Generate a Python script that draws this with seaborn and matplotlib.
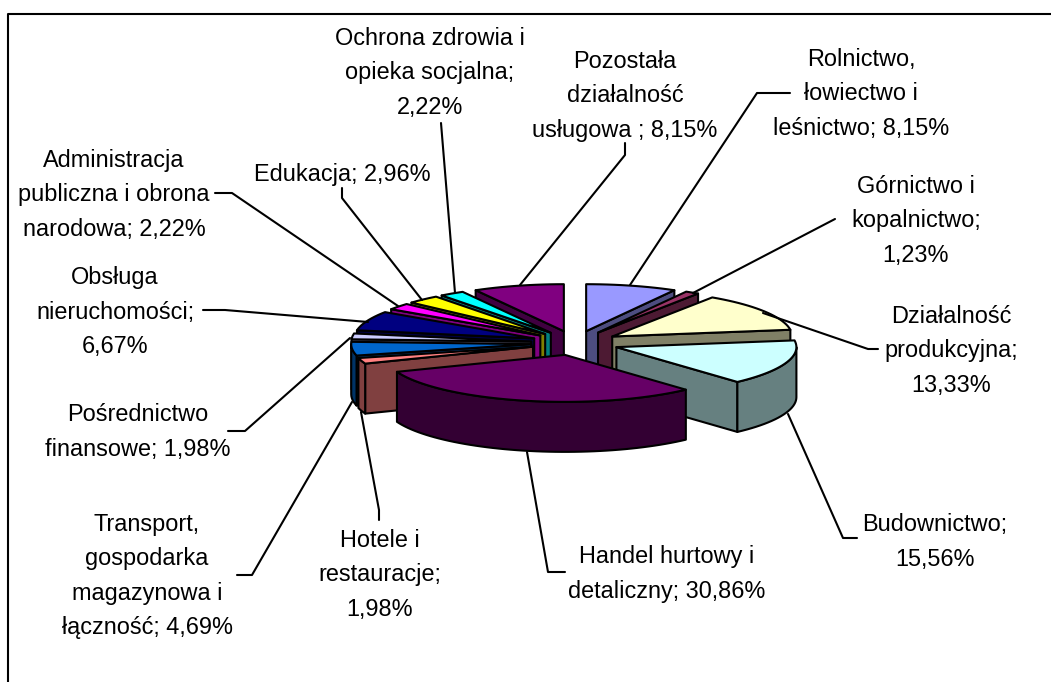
#!/usr/bin/env python3
import numpy as np
import pandas as pd
import matplotlib
matplotlib.use("Agg")
import matplotlib.pyplot as plt
import seaborn as sns

# --- data ---
labels = [
    "Rolnictwo,\nłowiectwo i\nleśnictwo; 8,15%",
    "Górnictwo i\nkopalnictwo;\n1,23%",
    "Działalność\nprodukcyjna;\n13,33%",
    "Budownictwo;\n15,56%",
    "Handel hurtowy i\ndetaliczny; 30,86%",
    "Hotele i\nrestauracje;\n1,98%",
    "Transport,\ngospodarka\nmagazynowa i\nłączność; 4,69%",
    "Pośrednictwo\nfinansowe; 1,98%",
    "Obsługa\nnieruchomości;\n6,67%",
    "Administracja\npubliczna i obrona\nnarodowa; 2,22%",
    "Edukacja; 2,96%",
    "Ochrona zdrowia i\nopieka socjalna;\n2,22%",
    "Pozostała\ndziałalność\nusługowa ; 8,15%",
]
shares = [8.15, 1.23, 13.33, 15.56, 30.86, 1.98, 4.69, 1.98, 6.67, 2.22, 2.96, 2.22, 8.15]
colors = ["#9999FF", "#993366", "#FFFFCC", "#CCFFFF", "#660066", "#FF8080", "#0066CC",
          "#CCCCFF", "#000080", "#FF00FF", "#FFFF00", "#00FFFF", "#800080"]

# label centres in pixels
label_x = [861, 916, 951, 935, 667, 380, 147, 138, 115, 114, 342, 430, 625]
label_y = [94, 221, 351, 542, 574, 575, 576, 432, 312, 195, 174, 73, 96]

# leader lines in pixels, one per slice
leaders = [
    [(790, 93), (757, 93), (630, 285)],
    [(835, 219), (693, 293)],
    [(878, 349), (868, 349), (763, 313)],
    [(857, 538), (843, 538), (788, 414)],
    [(565, 572), (548, 572), (527, 452)],
    [(361, 412), (379, 510), (379, 520)],
    [(237, 575), (252, 575), (352, 402)],
    [(228, 431), (245, 431), (350, 338)],
    [(203, 310), (225, 310), (368, 322)],
    [(215, 193), (232, 193), (398, 306)],
    [(342, 188), (342, 198), (422, 300)],
    [(441, 123), (455, 293)],
    [(625, 143), (625, 155), (520, 285)],
]

# pie geometry, pixels
CX, CY = 575, 343
RX, RY = 180, 47
EX, EY = 44, 12.2
DEPTH = 50
LW = 1.5

sns.set_theme(style="white")
plt.rcParams["font.family"] = ["Liberation Sans", "DejaVu Sans"]

fig = plt.figure(figsize=(10.51, 6.82), dpi=100)
ax = fig.add_axes([0, 0, 1, 1])
ax.set_xlim(0, 1051)
ax.set_ylim(682, 0)
ax.axis("off")


def darker(c):
    return tuple(v * 0.5 for v in matplotlib.colors.to_rgb(c))


def rim(ax0, ay0, t0, t1):
    t = np.linspace(t0, t1, max(int(abs(t1 - t0) / 2), 2))
    return ax0 + RX * np.sin(np.radians(t)), ay0 - RY * np.cos(np.radians(t))


# --- slices, back to front ---
edges = np.concatenate([[0], np.cumsum(shares)]) / sum(shares) * 360
mids = (edges[:-1] + edges[1:]) / 2
order = np.argsort(-np.cos(np.radians(mids)))

pen = dict(edgecolor="black", linewidth=LW, joinstyle="round")
for i in order:
    t0, t1 = edges[i], edges[i + 1]
    px = CX + EX * np.sin(np.radians(mids[i]))
    py = CY - EY * np.cos(np.radians(mids[i]))
    top, side = colors[i], darker(colors[i])

    # radial wall that faces the viewer
    for t, show in ((t0, np.sin(np.radians(t0)) < 0), (t1, np.sin(np.radians(t1)) > 0)):
        if show:
            ex_, ey_ = rim(px, py, t, t)
            ax.fill([px, ex_[0], ex_[0], px], [py, ey_[0], ey_[0] + DEPTH, py + DEPTH],
                    facecolor=side, **pen)

    # outer wall, front half only
    a, b = max(t0, 90), min(t1, 270)
    if b > a:
        xs, ys = rim(px, py, a, b)
        ax.fill(np.r_[xs, xs[::-1]], np.r_[ys, ys[::-1] + DEPTH], facecolor=side, **pen)

    # top face
    xs, ys = rim(px, py, t0, t1)
    ax.fill(np.r_[px, xs], np.r_[py, ys], facecolor=top, **pen)

# --- leaders ---
for pts in leaders:
    seg = pd.DataFrame(pts, columns=["x", "y"])
    sns.lineplot(data=seg, x="x", y="y", sort=False, estimator=None, color="black",
                 linewidth=LW, ax=ax, legend=False)
ax.set_xlim(0, 1051)
ax.set_ylim(682, 0)

# --- labels ---
for name, x, y in zip(labels, label_x, label_y):
    ax.text(x, y, name, ha="center", va="center", multialignment="center",
            fontsize=16.9, linespacing=1.64, color="black")

# --- frame: only the top and left edges show ---
ax.plot([8, 8, 1051], [682, 14, 14], color="black", linewidth=LW)

fig.savefig("out.png", dpi=100, facecolor="white")
